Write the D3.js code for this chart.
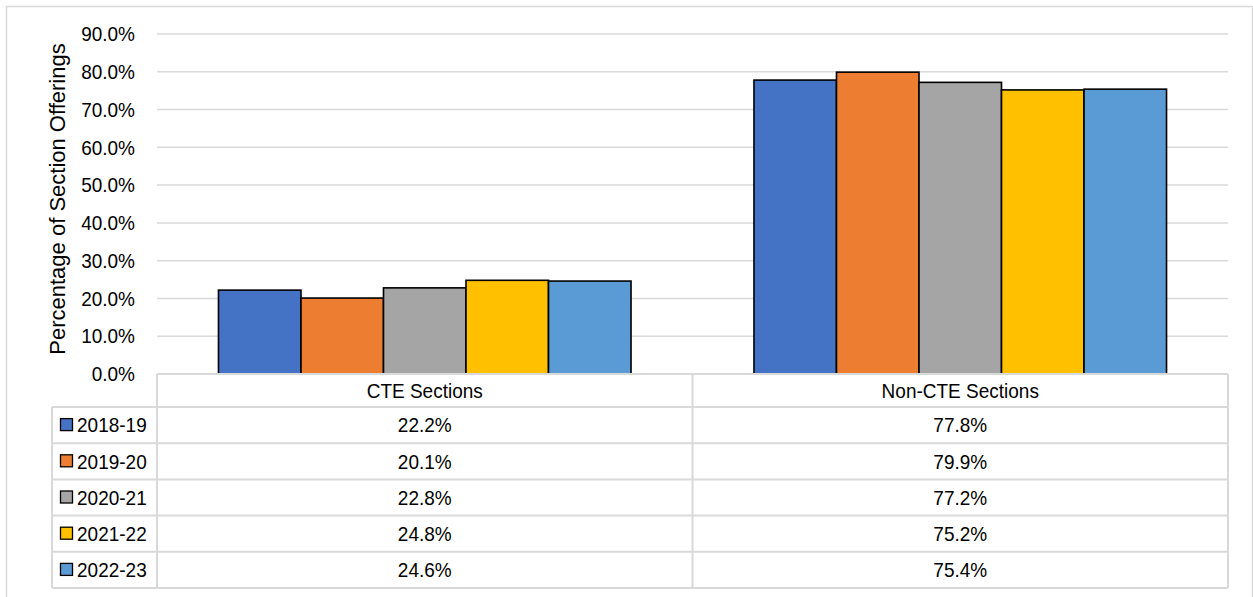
<!DOCTYPE html>
<html>
<head>
<meta charset="utf-8">
<script src="https://cdn.jsdelivr.net/npm/d3@7"></script>
<style>
  body { margin: 0; background: #fff; }
  text { font-family: Arial, "Liberation Sans", sans-serif; fill: #000; }
</style>
</head>
<body>
<div id="chart"></div>
<script>
// section offerings by year, CTE vs non-CTE

var categories = ['CTE Sections', 'Non-CTE Sections'];
var years = ['2018-19', '2019-20', '2020-21', '2021-22', '2022-23'];
var cteValues = [22.2, 20.1, 22.8, 24.8, 24.6];
var nonCteValues = [77.8, 79.9, 77.2, 75.2, 75.4];
var colors = ['#4472C4', '#ED7D31', '#A5A5A5', '#FFC000', '#5B9BD5'];
var yTicks = [0, 10, 20, 30, 40, 50, 60, 70, 80, 90];

var seriesValues = [cteValues, nonCteValues];

var width = 1253, height = 597;
var plot = { left: 157, right: 1228, top: 34, bottom: 374 };
var legendLeft = 52;
var catRowBottom = 407, rowH = 36.2;
var gridColor = '#d9d9d9';
var fontSize = '20px', squeeze = 0.95;

// text placed with a slight horizontal squeeze, like the original rendering
function placeText(sel, xf, yf) {
	sel.attr('transform', function(d, i){
		return 'translate(' + xf(d, i) + ',' + yf(d, i) + ') scale(' + squeeze + ',1)';
	}).style('font-size', fontSize);
}

var svg = d3.select('#chart').append('svg')
	.attr('width', width)
	.attr('height', height);

// outer frame
svg.append('rect')
	.attr('x', 6.5).attr('y', 6.5)
	.attr('width', 1246).attr('height', 600)
	.attr('fill', 'none')
	.attr('stroke', gridColor)
	.attr('stroke-width', 1.5);

var x0 = d3.scaleBand().domain(categories).range([plot.left, plot.right]).paddingInner(0).paddingOuter(0);
var x1 = d3.scaleBand().domain(years).range([0, x0.bandwidth()]).paddingOuter(0.745).paddingInner(0);
var y = d3.scaleLinear().domain([0, 90]).range([plot.bottom, plot.top]);

// gridlines
svg.append('g').selectAll('line')
	.data(yTicks.filter(function(d){ return d > 0; }))
	.enter().append('line')
	.attr('x1', plot.left).attr('x2', plot.right)
	.attr('y1', function(d){ return y(d); })
	.attr('y2', function(d){ return y(d); })
	.attr('stroke', gridColor)
	.attr('stroke-width', 1.5);

// y tick labels
svg.append('g').selectAll('text')
	.data(yTicks)
	.enter().append('text')
	.attr('dy', '0.36em')
	.attr('text-anchor', 'end')
	.call(placeText, function(){ return 135; }, function(d){ return y(d); })
	.text(function(d){ return d.toFixed(1) + '%'; });

// y axis title
svg.append('text')
	.attr('transform', 'translate(65,' + ((plot.top + plot.bottom) / 2 - 5) + ') rotate(-90)')
	.attr('text-anchor', 'middle')
	.style('font-size', '22px')
	.text('Percentage of Section Offerings');

// bars
var groups = svg.append('g').selectAll('g')
	.data(categories)
	.enter().append('g')
	.attr('transform', function(d){ return 'translate(' + x0(d) + ',0)'; });

groups.selectAll('rect')
	.data(function(d, ci){
		return years.map(function(yr, i){ return { year: yr, value: seriesValues[ci][i], color: colors[i] }; });
	})
	.enter().append('rect')
	.attr('x', function(d){ return x1(d.year); })
	.attr('width', x1.bandwidth())
	.attr('y', function(d){ return y(d.value); })
	.attr('height', function(d){ return plot.bottom - y(d.value); })
	.attr('fill', function(d){ return d.color; })
	.attr('stroke', '#000')
	.attr('stroke-width', 1.6);

// data table
var rowY = d3.scaleBand().domain(years).range([catRowBottom, catRowBottom + rowH * years.length]);
var tableBottom = catRowBottom + rowH * years.length;
var table = svg.append('g');

table.append('rect')
	.attr('x', plot.left).attr('y', plot.bottom)
	.attr('width', plot.right - plot.left).attr('height', catRowBottom - plot.bottom)
	.attr('fill', '#fff');

// horizontal lines
table.append('line')
	.attr('x1', plot.left).attr('x2', plot.right)
	.attr('y1', plot.bottom).attr('y2', plot.bottom)
	.attr('stroke', gridColor).attr('stroke-width', 2);

table.selectAll('.hline')
	.data(years.concat(['end']))
	.enter().append('line')
	.attr('class', 'hline')
	.attr('x1', legendLeft).attr('x2', plot.right)
	.attr('y1', function(d){ return d === 'end' ? tableBottom : rowY(d); })
	.attr('y2', function(d){ return d === 'end' ? tableBottom : rowY(d); })
	.attr('stroke', gridColor).attr('stroke-width', 2);

// vertical lines
var vlines = [
	{ x: legendLeft, top: catRowBottom },
	{ x: plot.left, top: plot.bottom },
	{ x: x0(categories[1]), top: plot.bottom },
	{ x: plot.right, top: plot.bottom }
];
table.selectAll('.vline')
	.data(vlines)
	.enter().append('line')
	.attr('class', 'vline')
	.attr('x1', function(d){ return d.x; }).attr('x2', function(d){ return d.x; })
	.attr('y1', function(d){ return d.top; }).attr('y2', tableBottom)
	.attr('stroke', gridColor).attr('stroke-width', 2);

// category labels
table.selectAll('.cat')
	.data(categories)
	.enter().append('text')
	.attr('class', 'cat')
	.attr('dy', '0.36em')
	.attr('text-anchor', 'middle')
	.call(placeText, function(d){ return x0(d) + x0.bandwidth() / 2; }, function(){ return (plot.bottom + catRowBottom) / 2; })
	.text(function(d){ return d; });

// legend keys
var legendRows = table.selectAll('.lrow')
	.data(years)
	.enter().append('g')
	.attr('class', 'lrow')
	.attr('transform', function(d){ return 'translate(0,' + (rowY(d) + rowY.bandwidth() / 2) + ')'; });

legendRows.append('rect')
	.attr('x', 60.5).attr('y', -6.5)
	.attr('width', 12).attr('height', 12)
	.attr('fill', function(d, i){ return colors[i]; })
	.attr('stroke', '#000')
	.attr('stroke-width', 1.3);

legendRows.append('text')
	.attr('dy', '0.36em')
	.call(placeText, function(){ return 77; }, function(){ return 0; })
	.text(function(d){ return d; });

// values
legendRows.each(function(yr, i){
	d3.select(this).selectAll('.val')
		.data(categories)
		.enter().append('text')
		.attr('class', 'val')
		.attr('dy', '0.36em')
		.attr('text-anchor', 'middle')
		.call(placeText, function(c){ return x0(c) + x0.bandwidth() / 2; }, function(){ return 0; })
		.text(function(c, ci){ return seriesValues[ci][i].toFixed(1) + '%'; });
});
</script>
</body>
</html>
